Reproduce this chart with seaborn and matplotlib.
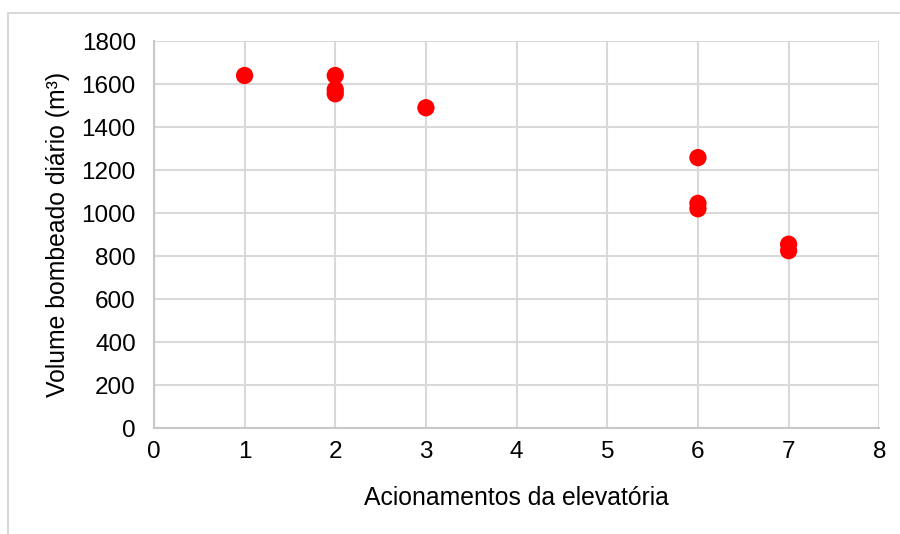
import pandas as pd
import matplotlib.pyplot as plt
import seaborn as sns
from matplotlib.patches import Rectangle

# values
acionamentos = [1, 2, 2, 2, 3, 6, 6, 6, 7, 7]
volume = [1640, 1640, 1575, 1555, 1490, 1258, 1045, 1020, 855, 825]

x_ticks = [0, 1, 2, 3, 4, 5, 6, 7, 8]
y_ticks = [0, 200, 400, 600, 800, 1000, 1200, 1400, 1600, 1800]

df = pd.DataFrame({"acionamentos": acionamentos, "volume": volume})

sns.set_theme(style="white")
plt.rcParams["font.family"] = ["Liberation Sans", "DejaVu Sans"]

fig = plt.figure(figsize=(9, 5.34), dpi=100)
ax = fig.add_axes([0.171, 0.1985, 0.806, 0.7245])

# outer frame of the chart area
fig.patches.append(Rectangle((8 / 900, -0.1), 1.2, 1 - 13 / 534 + 0.1,
                             transform=fig.transFigure, fill=False,
                             edgecolor="#d9d9d9", linewidth=1.5))

sns.scatterplot(data=df, x="acionamentos", y="volume", ax=ax,
                color="#ff0000", s=155, edgecolor="none", zorder=3)

ax.set_xlim(0, 8)
ax.set_ylim(0, 1800)
ax.set_xticks(x_ticks)
ax.set_yticks(y_ticks)
ax.tick_params(axis="both", labelsize=17.5, colors="black", length=0)
ax.tick_params(axis="x", pad=9)
ax.tick_params(axis="y", pad=13)
ax.grid(True, color="#d9d9d9", linewidth=1.5)
ax.set_axisbelow(True)
for side in ["top", "right"]:
    ax.spines[side].set_visible(False)
for side in ["left", "bottom"]:
    ax.spines[side].set_color("#c8c8c8")
    ax.spines[side].set_linewidth(1.5)

ax.set_xlabel("Acionamentos da elevatória", fontsize=17.8, labelpad=17, color="black")
ax.set_ylabel("Volume bombeado diário (m³)", fontsize=17.8, labelpad=8, color="black")

fig.savefig("out.png", dpi=100)
plt.close()
